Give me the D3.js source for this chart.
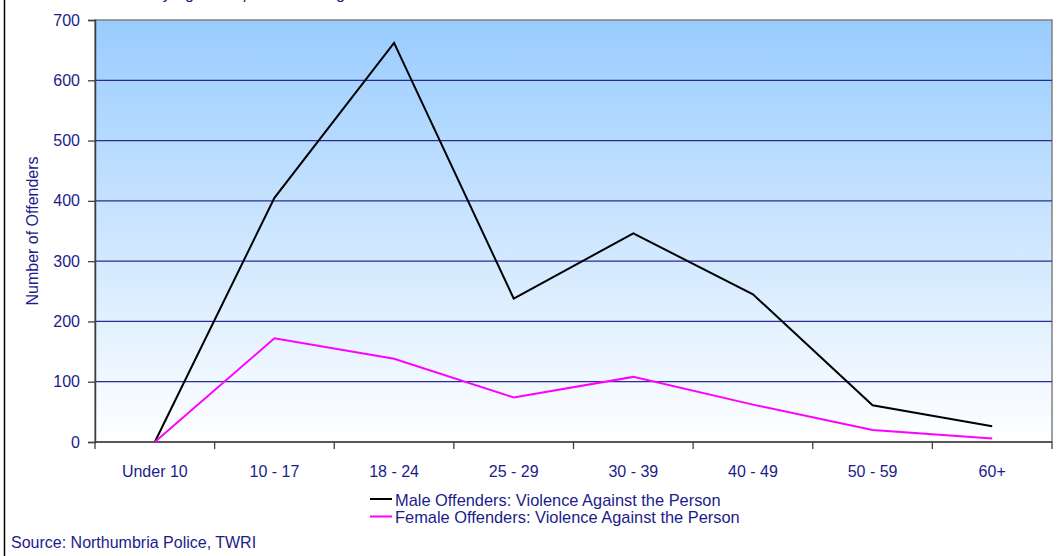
<!DOCTYPE html>
<html>
<head>
<meta charset="utf-8">
<script src="https://cdn.jsdelivr.net/npm/d3@7"></script>
<style>
  body { margin: 0; background: #fff; }
  svg { display: block; font-family: Arial, "Liberation Sans", sans-serif; }
</style>
</head>
<body>
<script>
const ageGroups = ['Under 10', '10 - 17', '18 - 24', '25 - 29', '30 - 39', '40 - 49', '50 - 59', '60+'];
const maleValues = [0, 405, 662, 238, 346, 245, 61, 26];
const femaleValues = [0, 172, 138, 74, 108, 62, 20, 6];
const yTicks = [0, 100, 200, 300, 400, 500, 600, 700];
const seriesNames = [
  'Male Offenders: Violence Against the Person',
  'Female Offenders: Violence Against the Person'
];

const width = 1059;
const height = 556;
const plotLeft = 95;
const plotRight = 1052;
const plotTop = 20;
const plotBottom = 442;
const textColor = '#1c1c8a';

const svg = d3.select('body')
  .append('svg')
  .attr('width', width)
  .attr('height', height);

// gradient for the plot area
const grad = svg.append('defs')
  .append('linearGradient')
  .attr('id', 'bg')
  .attr('x1', 0).attr('y1', 0)
  .attr('x2', 0).attr('y2', 1);
grad.append('stop').attr('offset', '0%').attr('stop-color', '#99ccff');
grad.append('stop').attr('offset', '100%').attr('stop-color', '#ffffff');

// outer chart frame (only the left edge is visible)
svg.append('rect')
  .attr('x', 4.5)
  .attr('y', -20)
  .attr('width', width + 40)
  .attr('height', height + 40)
  .attr('fill', 'none')
  .attr('stroke', '#000')
  .attr('stroke-width', 1.5);

// title, cut off by the top edge as in the original
svg.append('text')
  .attr('x', 270)
  .attr('y', -1)
  .attr('text-anchor', 'middle')
  .attr('fill', textColor)
  .style('font-size', '16px')
  .text('Offenders by Age Group: Violence Against the Person');

// SCALES
const x = d3.scaleBand()
  .domain(ageGroups)
  .range([plotLeft, plotRight]);

const y = d3.scaleLinear()
  .domain([0, 700])
  .range([plotBottom, plotTop]);

// plot area background
svg.append('rect')
  .attr('x', plotLeft)
  .attr('y', plotTop)
  .attr('width', plotRight - plotLeft)
  .attr('height', plotBottom - plotTop)
  .attr('fill', 'url(#bg)')
  .attr('stroke', '#808080')
  .attr('stroke-width', 1.5);

// GRIDLINES
svg.append('g')
  .selectAll('line')
  .data(yTicks.filter(d => d > 0 && d < 700))
  .enter()
  .append('line')
  .attr('x1', plotLeft)
  .attr('x2', plotRight)
  .attr('y1', d => y(d))
  .attr('y2', d => y(d))
  .attr('stroke', '#2b2b95')
  .attr('stroke-width', 1.3);

// Y-AXIS
const yAxis = d3.axisLeft(y)
  .tickValues(yTicks)
  .tickSize(7)
  .tickPadding(8);

const yg = svg.append('g')
  .attr('transform', `translate(${plotLeft}, 0)`)
  .call(yAxis);
yg.select('.domain').attr('stroke', '#404040').attr('stroke-width', 1.5);
yg.selectAll('.tick line').attr('stroke', '#404040').attr('stroke-width', 1.3);
yg.selectAll('.tick text')
  .attr('fill', textColor)
  .style('font-size', '16px')
  .style('font-family', 'Arial, "Liberation Sans", sans-serif');

// X-AXIS (ticks between categories)
const xAxisG = svg.append('g')
  .attr('transform', `translate(0, ${plotBottom})`);

xAxisG.append('line')
  .attr('x1', plotLeft)
  .attr('x2', plotRight)
  .attr('stroke', '#404040')
  .attr('stroke-width', 1.5);

const boundaries = ageGroups.map(d => x(d)).concat([x(ageGroups[ageGroups.length - 1]) + x.bandwidth()]);
xAxisG.selectAll('.xtick')
  .data(boundaries)
  .enter()
  .append('line')
  .attr('x1', d => d)
  .attr('x2', d => d)
  .attr('y1', 0)
  .attr('y2', 7)
  .attr('stroke', '#404040')
  .attr('stroke-width', 1.3);

xAxisG.selectAll('.xlabel')
  .data(ageGroups)
  .enter()
  .append('text')
  .attr('x', d => x(d) + x.bandwidth() / 2)
  .attr('y', 35)
  .attr('text-anchor', 'middle')
  .attr('fill', textColor)
  .style('font-size', '16px')
  .text(d => d);

// Y-AXIS TITLE
svg.append('text')
  .attr('transform', `translate(38, ${(plotTop + plotBottom) / 2}) rotate(-90)`)
  .attr('text-anchor', 'middle')
  .attr('fill', textColor)
  .style('font-size', '16px')
  .text('Number of Offenders');

// LINES
const line = d3.line()
  .x((d, i) => x(ageGroups[i]) + x.bandwidth() / 2)
  .y(d => y(d));

svg.append('path')
  .datum(maleValues)
  .attr('d', line)
  .attr('fill', 'none')
  .attr('stroke', '#000000')
  .attr('stroke-width', 2);

svg.append('path')
  .datum(femaleValues)
  .attr('d', line)
  .attr('fill', 'none')
  .attr('stroke', '#ff00ff')
  .attr('stroke-width', 2);

// LEGEND
const legend = svg.append('g')
  .attr('transform', 'translate(370, 499)');
const legendColors = ['#000000', '#ff00ff'];

seriesNames.forEach((name, i) => {
  legend.append('line')
    .attr('x1', 0)
    .attr('x2', 22)
    .attr('y1', i * 17.5)
    .attr('y2', i * 17.5)
    .attr('stroke', legendColors[i])
    .attr('stroke-width', 2);
  legend.append('text')
    .attr('x', 25)
    .attr('y', i * 17.5 + 6.5)
    .attr('fill', textColor)
    .style('font-size', '16.4px')
    .text(name);
});

// SOURCE
svg.append('text')
  .attr('x', 11)
  .attr('y', 548)
  .attr('fill', textColor)
  .style('font-size', '16px')
  .text('Source: Northumbria Police, TWRI');
</script>
</body>
</html>
